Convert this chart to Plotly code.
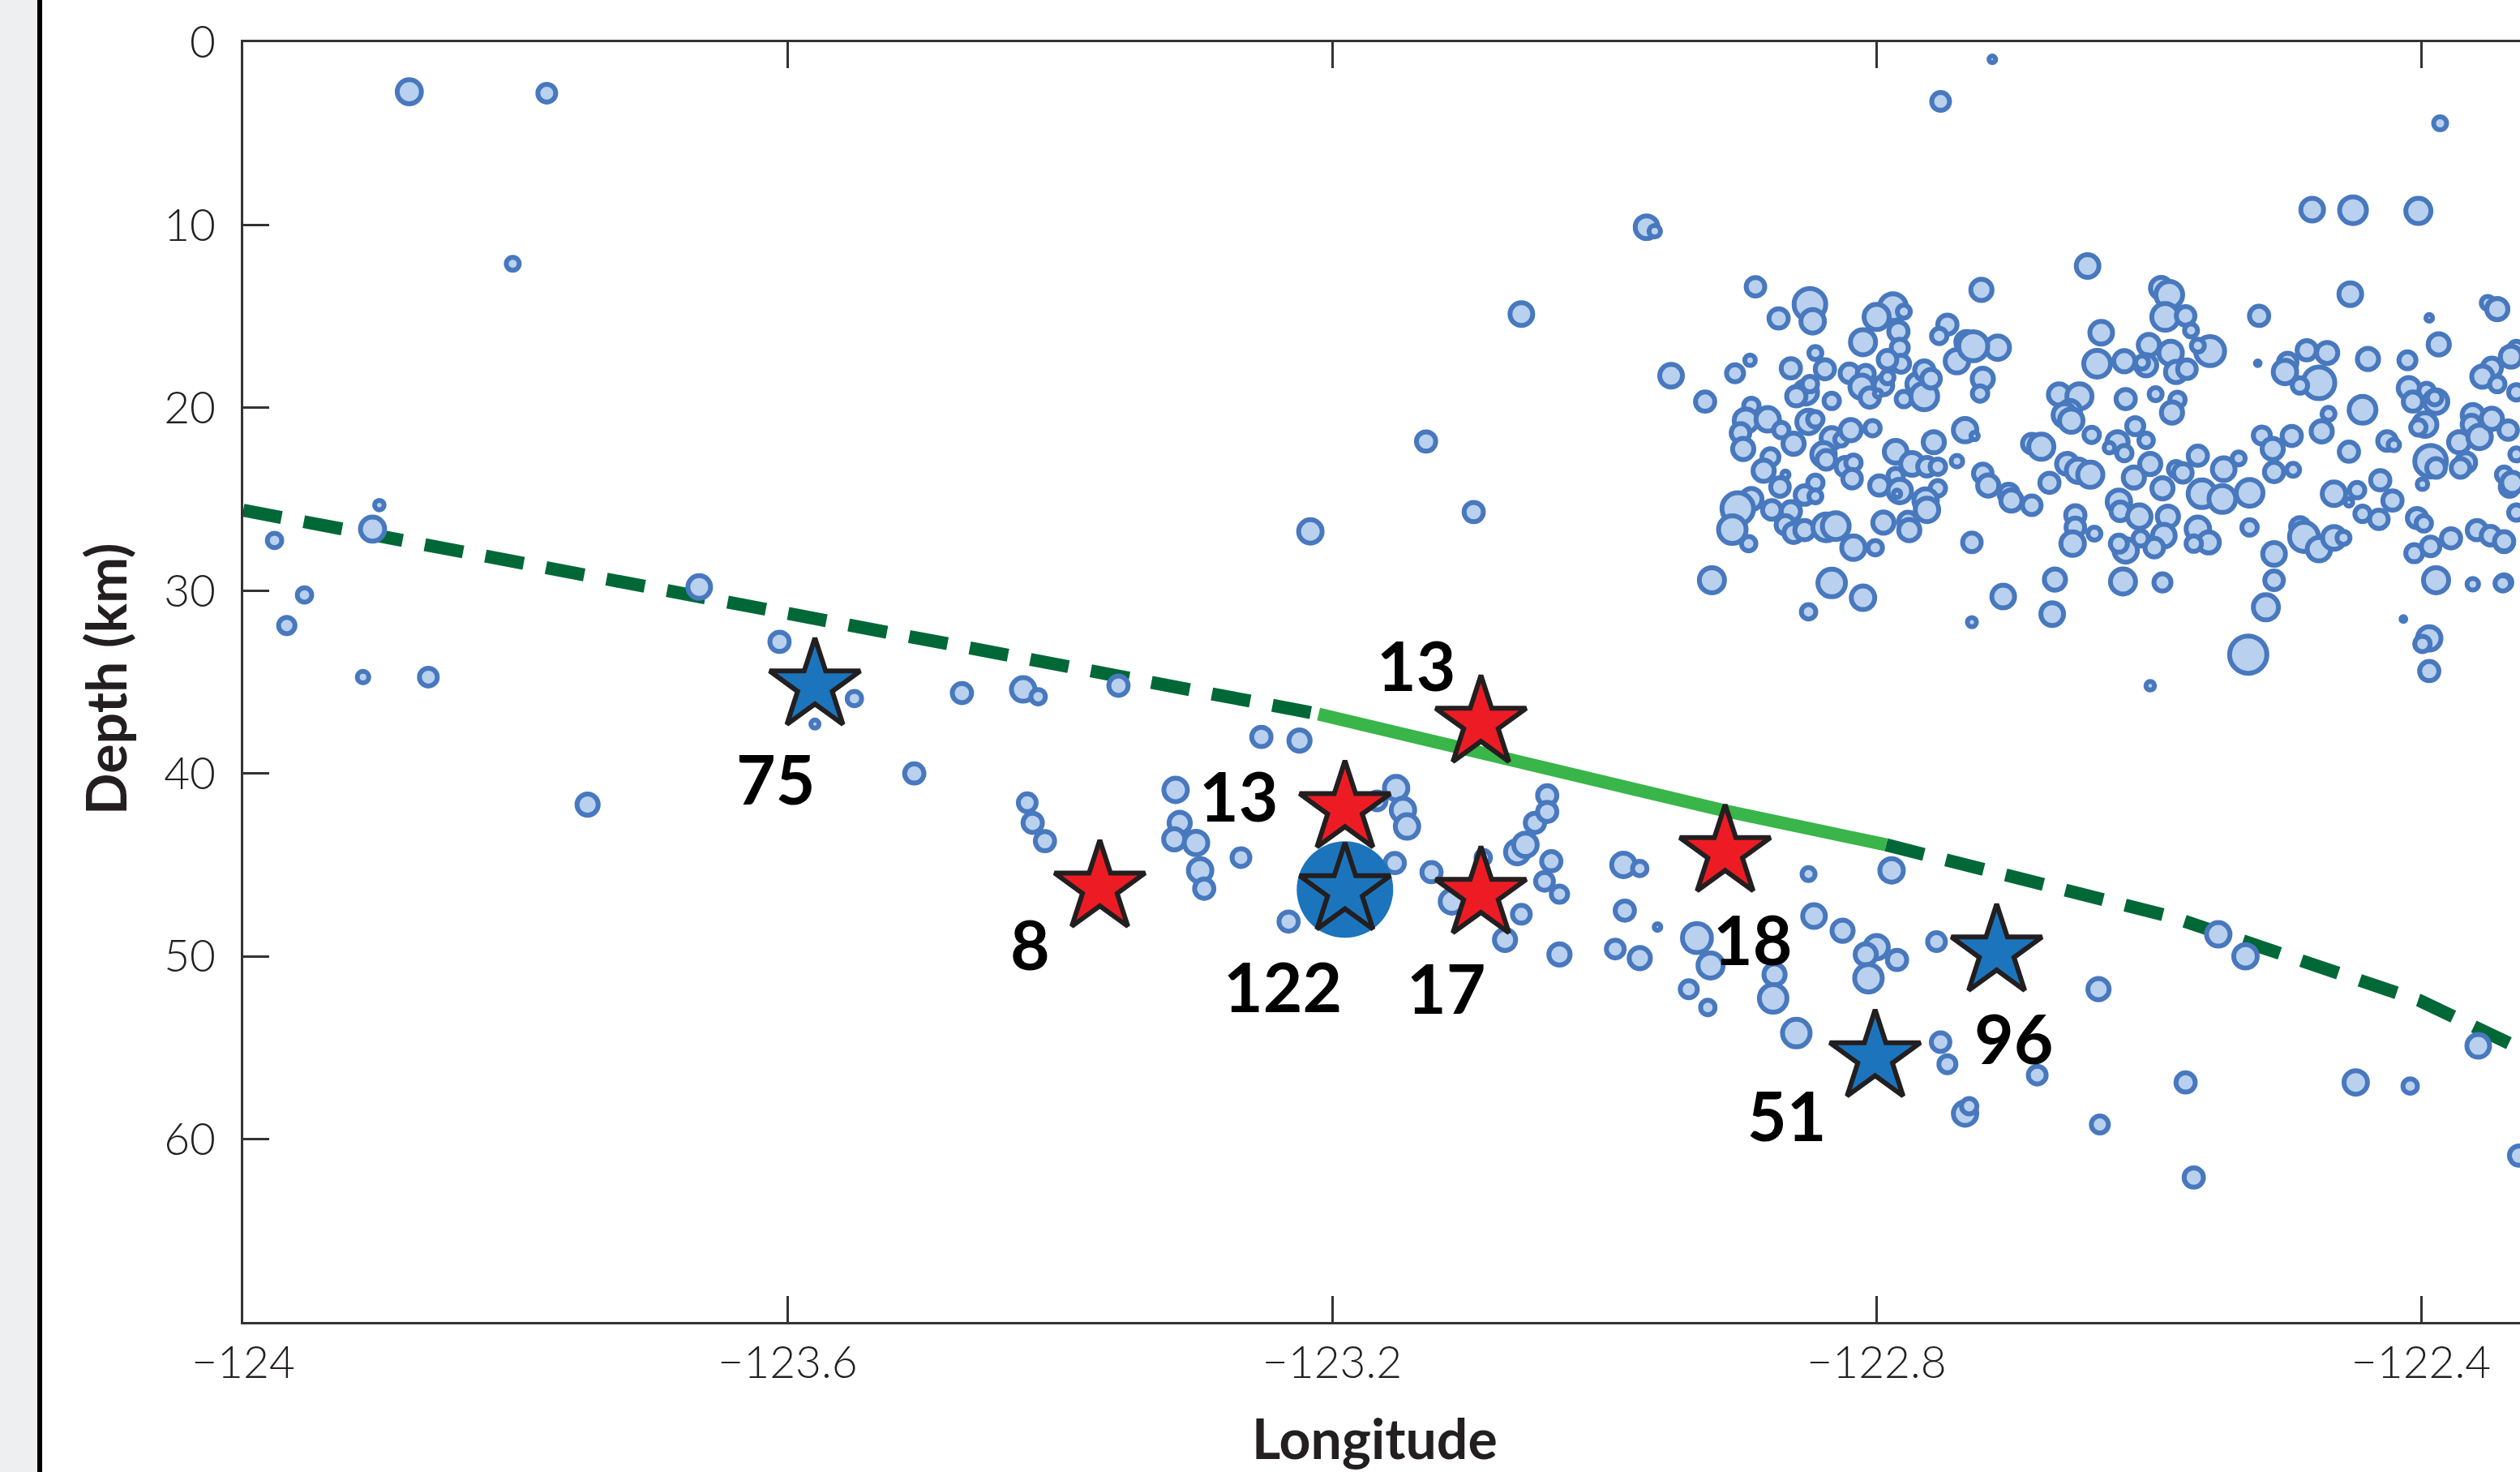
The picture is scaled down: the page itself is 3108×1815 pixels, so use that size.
import plotly.graph_objects as go

# ---------------- data ----------------
x_tick_vals = [-124.0, -123.6, -123.2, -122.8, -122.4]
x_tick_text = ["\u2212124", "\u2212123.6", "\u2212123.2", "\u2212122.8", "\u2212122.4"]
y_tick_vals = [0, 10, 20, 30, 40, 50, 60]
y_tick_text = ["0", "10", "20", "30", "40", "50", "60"]

# slab surface (dashed = inferred, solid = constrained)
slab_dash1_lon = [-124.0, -123.8, -123.597, -123.4, -123.21]
slab_dash1_depth = [25.6, 28.4, 31.2, 34.1, 36.75]
slab_solid_lon = [-123.21, -123.017, -122.912, -122.793]
slab_solid_depth = [36.75, 40.17, 42.03, 43.9]
slab_dash2_lon = [-122.793, -122.583, -122.401, -122.30, -122.25]
slab_dash2_depth = [43.9, 47.85, 52.42, 56.0, 57.8]

# earthquakes: longitude, depth (km), magnitude
eq_lon = [
    # upper-plate cluster (west part)
    -122.645, -122.889, -122.849, -122.847, -122.872, -122.723, -122.788, -122.800, -122.780, -122.784,
    -122.810, -122.783, -122.782, -122.792, -122.748, -122.754, -122.734, -122.711, -122.741, -122.729,
    -122.722, -122.724, -122.635, -122.638, -122.893, -122.904, -122.926, -122.863, -122.845, -122.838,
    -122.852, -122.859, -122.849, -122.833, -122.820, -122.808, -122.811, -122.805, -122.795, -122.799,
    -122.792, -122.780, -122.770, -122.765, -122.765, -122.760, -122.892, -122.896, -122.900, -122.898,
    -122.880, -122.870, -122.861, -122.878, -122.883, -122.871, -122.867, -122.850, -122.845, -122.833,
    -122.826, -122.819, -122.803, -122.839, -122.837, -122.823, -122.817, -122.818, -122.845, -122.853,
    -122.845, -122.892, -122.902, -122.906, -122.894, -122.877, -122.863, -122.867, -122.861, -122.853,
    -122.837, -122.830, -122.817, -122.801, -122.795, -122.798, -122.786, -122.786, -122.783, -122.785,
    -122.774, -122.763, -122.755, -122.758, -122.741, -122.735, -122.728, -122.755, -122.764, -122.763,
    -122.777, -122.776, -122.722, -122.718, -122.703, -122.701, -122.686, -122.730, -122.686, -122.679,
    -122.666, -122.651, -122.658, -122.662, -122.657, -122.642, -122.660, -122.673, -122.652, -122.643,
    -122.654, -122.654, -122.656, -122.640, -122.921, -122.833, -122.810, -122.850, -122.730, -122.707,
    -122.669, -122.671,
    # upper-plate cluster (east part)
    -122.591, -122.585, -122.588, -122.573, -122.569, -122.555, -122.564, -122.618, -122.600, -122.602,
    -122.605, -122.584, -122.580, -122.572, -122.617, -122.595, -122.579, -122.583, -122.610, -122.602,
    -122.623, -122.629, -122.618, -122.599, -122.611, -122.590, -122.580, -122.575, -122.564, -122.545,
    -122.534, -122.561, -122.546, -122.526, -122.622, -122.621, -122.607, -122.586, -122.589, -122.596,
    -122.617, -122.622, -122.606, -122.564, -122.556, -122.567, -122.526, -122.508, -122.508, -122.514,
    -122.619, -122.590, -122.527, -122.519, -122.520, -122.452, -122.484, -122.469, -122.498, -122.500,
    -122.475, -122.489, -122.439, -122.410, -122.387, -122.394, -122.351, -122.344, -122.468, -122.473,
    -122.443, -122.517, -122.495, -122.509, -122.508, -122.494, -122.453, -122.425, -122.420, -122.464,
    -122.447, -122.453, -122.430, -122.421, -122.443, -122.431, -122.489, -122.486, -122.475, -122.464,
    -122.457, -122.409, -122.406, -122.396, -122.389, -122.390, -122.397, -122.402, -122.393, -122.389,
    -122.399, -122.403, -122.398, -122.405, -122.393, -122.378, -122.389, -122.362, -122.339, -122.413,
    -122.394, -122.399, -122.359, -122.349, -122.339, -122.372, -122.362, -122.363, -122.357, -122.348,
    -122.348, -122.355, -122.336, -122.367, -122.371, -122.339, -122.335, -122.330, -122.330, -122.330,
    -122.344, -122.330,
    # scattered shallow / edge events
    -122.969, -122.963, -123.061, -122.951, -123.131, -123.096, -123.216, -122.753, -122.715, -122.480,
    -122.450, -122.402, -122.386, -122.599, -122.394, -122.334, -122.333, -122.339, -122.340,
    # deep events east
    -122.986, -122.974, -122.850, -122.789, -122.985, -122.961, -122.992, -122.974, -122.932, -122.922,
    -122.875, -122.938, -122.924, -122.876, -122.859, -122.846, -122.825, -122.800, -122.808, -122.785,
    -122.806, -122.756, -122.753, -122.748, -122.682, -122.735, -122.732, -122.637, -122.549, -122.529,
    -122.573, -122.448, -122.408, -122.636, -122.567, -122.358, -122.328,
    # deep events central
    -123.606, -123.551, -123.580, -123.472, -123.427, -123.416, -123.357, -123.507, -123.424, -123.420,
    -123.411, -123.252, -123.224, -123.315, -123.312, -123.316, -123.300, -123.267, -123.297, -123.294,
    -123.232, -123.153, -123.148, -123.145, -123.167, -123.154, -123.127, -123.112, -123.089, -123.064,
    -123.058, -123.051, -123.042, -123.042, -123.039, -123.044, -123.033, -123.061, -123.073, -123.033,
    # west
    -123.878, -123.777, -123.802, -123.977, -123.968, -123.955, -123.905, -123.900, -123.912, -123.864,
    -123.747, -123.665,
]
eq_depth = [
    12.24, 13.38, 14.34, 15.27, 15.11, 13.55, 14.49, 15.03, 14.74, 15.82,
    16.41, 16.71, 17.59, 17.37, 15.45, 16.07, 16.41, 16.71, 17.45, 16.63,
    18.41, 19.22, 15.89, 17.59, 17.40, 18.11, 19.66, 17.84, 17.00, 17.89,
    19.15, 19.37, 18.70, 19.62, 18.11, 18.14, 18.85, 19.44, 18.78, 19.22,
    18.33, 19.52, 18.70, 19.37, 17.96, 18.41, 19.89, 20.70, 21.37, 22.25,
    20.63, 21.22, 21.96, 22.70, 23.44, 24.33, 23.66, 20.77, 20.63, 21.66,
    21.74, 21.22, 21.11, 22.55, 22.85, 23.22, 23.00, 23.88, 24.10, 24.77,
    24.84, 24.99, 25.51, 26.66, 27.43, 25.58, 25.66, 26.40, 26.84, 26.69,
    26.54, 26.47, 27.65, 27.65, 26.28, 24.25, 22.40, 23.73, 24.55, 24.70,
    23.07, 23.22, 23.22, 21.88, 22.92, 21.22, 21.54, 24.40, 25.07, 25.58,
    26.22, 26.69, 23.59, 24.25, 24.70, 25.07, 25.33, 27.36, 21.96, 22.13,
    19.27, 19.37, 20.18, 20.40, 20.70, 21.48, 23.07, 24.10, 23.44, 23.66,
    25.88, 26.54, 27.43, 26.88, 29.43, 29.58, 30.39, 31.16, 31.72, 30.32,
    29.39, 31.28,
    13.45, 13.82, 15.03, 14.97, 15.77, 16.90, 16.60, 17.45, 16.56, 17.67,
    17.52, 17.00, 18.04, 17.89, 19.52, 19.25, 19.56, 20.26, 21.00, 21.78,
    21.88, 22.18, 22.48, 23.07, 23.81, 24.40, 23.36, 23.56, 22.62, 23.36,
    22.77, 24.70, 24.99, 24.65, 25.14, 25.66, 25.95, 25.95, 26.99, 27.65,
    27.80, 27.43, 27.14, 26.62, 27.36, 27.43, 26.54, 27.99, 29.43, 30.91,
    29.50, 29.55, 33.50, 14.97, 17.56, 13.78, 16.85, 17.00, 17.52, 18.04,
    18.63, 18.78, 17.33, 17.40, 16.53, 15.08, 14.26, 14.60, 20.33, 21.29,
    20.11, 21.51, 21.54, 22.25, 23.51, 23.39, 22.40, 21.81, 22.03, 24.70,
    24.50, 25.17, 23.96, 25.07, 25.80, 26.10, 26.51, 27.06, 27.73, 27.11,
    27.11, 18.92, 19.66, 19.07, 19.66, 19.44, 20.92, 21.07, 22.92, 23.29,
    24.18, 26.03, 26.32, 27.95, 27.58, 27.14, 29.43, 29.65, 29.55, 31.55,
    32.61, 32.91, 26.69, 26.99, 27.36, 21.88, 20.40, 20.92, 21.59, 20.60,
    17.81, 18.29, 21.22, 22.99, 23.29, 23.66, 24.33, 25.73, 16.78, 19.15,
    18.70, 22.55,
    10.12, 10.34, 14.87, 18.24, 21.84, 25.70, 26.76, 3.24, 0.94, 9.16,
    9.19, 9.23, 4.44, 35.20, 34.40, 17.20, 24.10, 27.30, 29.60,
    45.0, 45.2, 45.5, 45.3, 47.5, 48.4, 49.6, 50.1, 49.0, 50.5,
    51.0, 51.8, 52.8, 52.3, 54.2, 47.8, 48.6, 49.5, 49.9, 50.2,
    51.2, 49.2, 54.7, 55.9, 56.5, 58.6, 58.2, 51.8, 48.8, 50.0,
    56.9, 56.9, 57.1, 59.2, 62.1, 54.9, 60.9,
    32.8, 35.9, 37.3, 35.6, 35.4, 35.8, 35.2, 40.0, 41.6, 42.7,
    43.7, 38.0, 38.2, 40.9, 42.7, 43.6, 43.8, 44.6, 45.3, 46.3,
    48.1, 40.8, 42.0, 42.9, 41.5, 44.9, 45.4, 47.0, 44.6, 44.3,
    43.9, 42.7, 41.2, 42.1, 44.8, 45.9, 46.6, 47.7, 49.1, 49.9,
    2.71, 2.79, 12.12, 27.25, 31.91, 30.24, 26.63, 25.32, 34.73, 34.73,
    41.7, 29.8,
]
eq_mag = [
    2.25, 1.83, 3.17, 2.33, 1.9, 2.1, 2.67, 2.5, 1.25, 1.9,
    2.5, 1.67, 1.67, 1.83, 1.9, 1.5, 2.1, 2.33, 2.33, 2.9,
    2.1, 1.5, 2.25, 2.67, 1.0, 1.67, 1.9, 1.9, 1.25, 1.9,
    2.33, 1.9, 1.5, 1.5, 1.83, 1.67, 2.33, 1.9, 1.83, 0.67,
    1.25, 1.5, 2.1, 2.67, 1.9, 1.83, 1.5, 2.33, 1.83, 2.1,
    2.33, 1.5, 2.1, 1.67, 2.1, 1.83, 0.67, 2.33, 1.5, 2.1,
    1.25, 2.1, 1.5, 2.33, 1.83, 1.83, 1.5, 1.83, 1.5, 1.83,
    1.25, 2.1, 3.17, 2.75, 1.4, 1.83, 1.9, 1.83, 1.9, 1.9,
    2.67, 2.67, 2.33, 1.4, 2.1, 1.9, 2.25, 1.5, 2.33, 0.67,
    2.25, 1.83, 1.5, 2.1, 1.1, 2.33, 0.67, 1.5, 2.33, 2.33,
    1.83, 2.1, 1.83, 2.1, 1.9, 2.1, 1.83, 1.83, 1.83, 2.5,
    2.1, 2.5, 2.1, 2.25, 2.33, 1.5, 2.1, 1.9, 2.33, 2.5,
    1.9, 1.83, 2.33, 1.25, 2.5, 2.75, 2.33, 1.4, 0.85, 2.25,
    2.1, 2.25,
    2.1, 2.67, 2.67, 1.83, 1.25, 2.9, 1.25, 2.1, 2.1, 2.1,
    1.25, 2.33, 2.1, 1.83, 1.9, 1.25, 1.5, 2.1, 1.67, 1.4,
    2.1, 1.0, 1.5, 2.1, 2.1, 2.1, 1.5, 1.83, 1.9, 2.25,
    1.25, 2.75, 2.67, 2.67, 2.33, 1.83, 2.33, 2.1, 2.25, 1.83,
    2.33, 1.67, 1.5, 2.33, 2.1, 1.5, 1.5, 2.25, 1.83, 2.5,
    2.5, 1.67, 3.75, 1.9, 0.4, 2.25, 1.9, 2.1, 1.83, 2.33,
    3.17, 1.5, 2.1, 1.67, 2.1, 0.6, 1.25, 2.1, 1.25, 2.1,
    2.67, 1.67, 1.9, 2.1, 1.9, 1.25, 1.9, 1.83, 1.1, 2.33,
    1.5, 0.7, 1.9, 1.9, 1.5, 1.83, 1.83, 2.9, 2.33, 2.25,
    1.25, 2.1, 1.9, 1.5, 2.33, 1.4, 2.33, 1.5, 3.17, 1.83,
    1.0, 1.9, 1.5, 1.67, 1.83, 1.9, 2.5, 1.1, 1.5, 0.4,
    2.33, 1.5, 1.9, 1.83, 1.83, 2.1, 2.1, 1.83, 2.33, 2.1,
    1.9, 2.1, 1.83, 1.9, 1.83, 1.5, 1.83, 1.5, 1.5, 1.5,
    1.5, 1.25,
    2.25, 1.1, 2.25, 2.25, 1.9, 1.9, 2.33, 1.75, 0.6, 2.25,
    2.67, 2.5, 1.25, 0.8, 1.9, 2.1, 2.1, 1.9, 1.5,
    2.33, 1.4, 1.25, 2.33, 1.9, 0.6, 1.75, 2.1, 2.9, 2.5,
    2.1, 1.67, 1.4, 2.75, 2.75, 2.25, 2.1, 2.33, 2.1, 1.9,
    2.75, 1.75, 1.83, 1.67, 1.75, 2.33, 1.5, 2.1, 2.33, 2.33,
    1.9, 2.33, 1.4, 1.67, 1.9, 2.25, 1.9,
    1.9, 1.4, 0.75, 1.9, 2.33, 1.4, 1.9, 1.9, 1.75, 1.9,
    1.9, 1.9, 2.1, 2.33, 2.1, 2.1, 2.33, 1.75, 2.33, 1.9,
    1.9, 2.33, 2.33, 2.33, 1.75, 1.9, 1.9, 2.33, 1.4, 2.33,
    2.33, 1.9, 1.9, 1.9, 1.9, 1.75, 1.6, 1.75, 2.1, 2.1,
    2.4, 1.75, 1.25, 1.4, 1.6, 1.4, 2.4, 0.9, 1.1, 1.75,
    2.1, 2.25,
]

# repeating-earthquake families (stars) and their event counts
red_lon = [-123.0907, -123.1906, -123.3707, -123.0907, -122.9113]
red_depth = [37.24, 41.91, 46.25, 46.6, 44.31]
red_count = ["13", "13", "8", "17", "18"]
blue_lon = [-123.580, -123.1906, -122.7118, -122.8011]
blue_depth = [35.2, 46.4, 49.75, 55.53]
blue_count = ["75", "122", "96", "51"]
big_lon = [-123.1906]
big_depth = [46.35]

# label offsets (pixels) for each star label
red_off = [(-80, -72), (-131, -16), (-86, 69), (-43, 115), (34, 107)]
blue_off = [(-49, 114), (-77, 118), (21, 106), (-109, 71)]

# ---------------- figure ----------------
W, H = 3108, 1815
L, R, T, B = 300, 0, 52, 185
PW, PH = W - L - R, H - T - B
px_per_deg = 1678.75

def px2paper_x(px):
    return (px - L) / PW

def px2paper_y(py):
    return 1 - (py - T) / PH

dark_green = "#006837"
light_green = "#39b54a"
eq_fill = "#b9d1ee"
eq_line = "#4878be"
red = "#ed1c24"
blue = "#1c75bc"
outline = "#231f20"

fig = go.Figure()

fig.add_trace(go.Scatter(x=slab_dash1_lon, y=slab_dash1_depth, mode="lines",
                         line=dict(color=dark_green, width=16, dash="48px,28px"),
                         hoverinfo="skip", showlegend=False))
fig.add_trace(go.Scatter(x=slab_dash2_lon, y=slab_dash2_depth, mode="lines",
                         line=dict(color=dark_green, width=16, dash="48px,28px"),
                         hoverinfo="skip", showlegend=False))
fig.add_trace(go.Scatter(x=slab_solid_lon, y=slab_solid_depth, mode="lines",
                         line=dict(color=light_green, width=16),
                         hoverinfo="skip", showlegend=False))

fig.add_trace(go.Scatter(x=eq_lon, y=eq_depth, mode="markers",
                         marker=dict(symbol="circle", size=[12 * m + 1 for m in eq_mag],
                                     opacity=1, color=eq_fill,
                                     line=dict(color=eq_line, width=6)),
                         showlegend=False))

fig.add_trace(go.Scatter(x=big_lon, y=big_depth, mode="markers",
                         marker=dict(symbol="circle", size=119, color=blue, opacity=1,
                                     line=dict(width=0)),
                         showlegend=False))

fig.add_trace(go.Scatter(x=blue_lon, y=blue_depth, mode="markers",
                         marker=dict(symbol="star", size=84, color=blue, opacity=1,
                                     line=dict(color=outline, width=6)),
                         showlegend=False))
fig.add_trace(go.Scatter(x=red_lon, y=red_depth, mode="markers",
                         marker=dict(symbol="star", size=84, color=red, opacity=1,
                                     line=dict(color=outline, width=6)),
                         showlegend=False))

label_font = dict(family="Lato, Open Sans, sans-serif", size=84, color="#000000", weight="bold")
for lon, dep, txt, (dx, dy) in zip(red_lon + blue_lon, red_depth + blue_depth,
                                   red_count + blue_count, red_off + blue_off):
    fig.add_annotation(x=lon, y=dep, xref="x", yref="y", text=txt, showarrow=False,
                       xanchor="center", yanchor="middle", xshift=dx, yshift=-dy,
                       font=label_font)

title_font = dict(family="Lato, Open Sans, sans-serif", size=68, color="#231f20", weight="bold")
fig.add_annotation(x=px2paper_x(1695), y=px2paper_y(1772), xref="paper", yref="paper",
                   text="Longitude", showarrow=False, xanchor="center", yanchor="middle",
                   font=title_font)
fig.add_annotation(x=px2paper_x(130), y=px2paper_y(838), xref="paper", yref="paper",
                   text="Depth (km)", showarrow=False, xanchor="center", yanchor="middle",
                   textangle=-90, font=title_font)

# left page strip
fig.add_shape(type="rect", xref="paper", yref="paper",
              x0=px2paper_x(0), x1=px2paper_x(46), y0=px2paper_y(H), y1=px2paper_y(0),
              fillcolor="#eeeff0", line=dict(width=0), layer="below")
fig.add_shape(type="rect", xref="paper", yref="paper",
              x0=px2paper_x(46), x1=px2paper_x(52), y0=px2paper_y(H), y1=px2paper_y(0),
              fillcolor="#000000", line=dict(width=0), layer="below")

tick_font = dict(family="Lato, sans-serif", size=55, color="#231f20", weight=300)
axis_common = dict(showgrid=False, zeroline=False, showline=True, linecolor="#333333",
                   linewidth=3, ticks="inside", ticklen=32, tickwidth=3, tickcolor="#333333",
                   tickfont=tick_font)

fig.update_layout(
    width=W, height=H,
    margin=dict(l=L, r=R, t=T, b=B),
    paper_bgcolor="white", plot_bgcolor="white",
    xaxis=dict(range=[-124.0, -124.0 + PW / px_per_deg], tickvals=x_tick_vals,
               ticktext=x_tick_text, mirror="ticks", **axis_common),
    yaxis=dict(range=[70.0, 0.0], tickvals=y_tick_vals, ticktext=y_tick_text,
               mirror=False, ticklabelstandoff=20, **axis_common),
)

fig.write_html("out.html", config={"displayModeBar": False},
               post_script="document.body.style.margin='0';document.body.style.overflow='hidden';")
